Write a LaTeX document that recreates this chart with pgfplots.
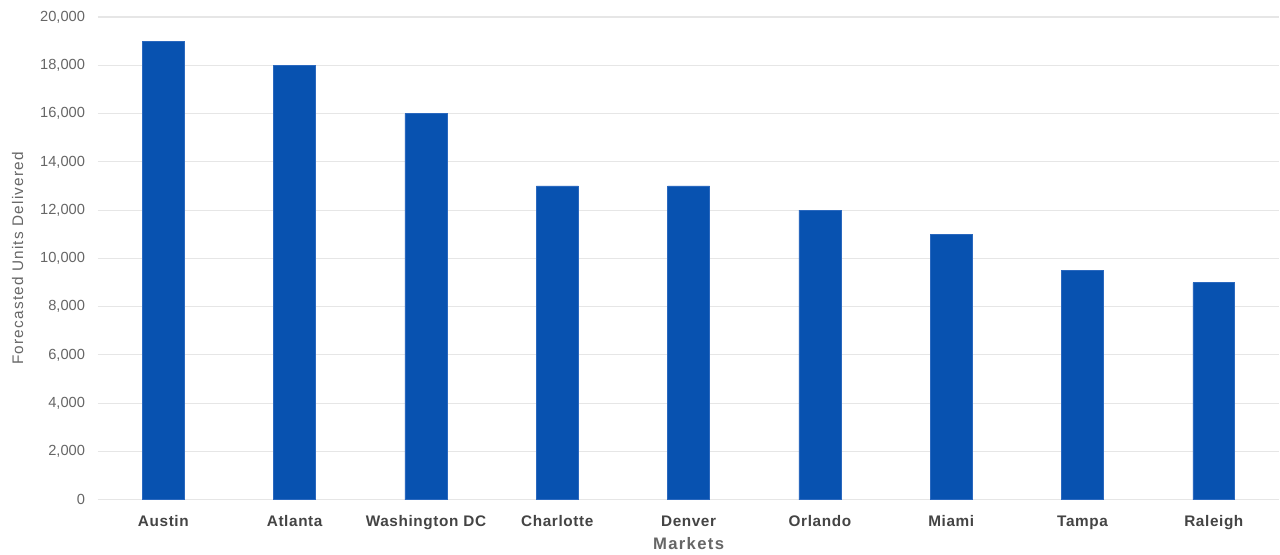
\documentclass[border=0pt]{standalone}
\usepackage{pgfplots}
\pgfplotsset{compat=1.18}
\usepackage{fontspec}
\setmainfont{Liberation Sans}
\newfontfamily\wideA[LetterSpace=8]{Liberation Sans}
\newfontfamily\wideB[LetterSpace=4]{Liberation Sans}
\definecolor{barblue}{HTML}{0852B0}
\definecolor{baredge}{HTML}{2A68BE}
\definecolor{gridc}{HTML}{E6E6E6}
\definecolor{ticktext}{HTML}{666666}
\definecolor{cattext}{HTML}{444444}
\begin{document}
\begin{tikzpicture}
\begin{axis}[
  scale only axis,
  width=886.7pt, height=362.25pt,
  xmin=-0.5, xmax=8.5,
  ymin=0, ymax=20000,
  ytick={0,2000,...,20000},
  xtick={0,...,8},
  xticklabels={Austin,Atlanta,Washington DC,Charlotte,Denver,Orlando,Miami,Tampa,Raleigh},
  axis line style={draw=none},
  major tick length=0pt,
  ymajorgrids, grid style={gridc, line width=0.8pt},
  /pgf/number format/assume math mode=true,
  /pgf/number format/1000 sep={,},
  scaled y ticks=false,
  yticklabel style={font=\fontsize{11}{12}\selectfont, text=ticktext, xshift=-6pt},
  xticklabel style={font=\wideB\fontsize{11.5}{13}\selectfont\bfseries, text=cattext, text height=1.6ex, text depth=0.45ex, yshift=-8pt},
  every axis y label/.style={at={(axis description cs:0,0.5)}, rotate=90, anchor=center, yshift=60pt,
     font=\wideA\fontsize{11.5}{13}\selectfont, text=ticktext},
  every axis x label/.style={at={(axis description cs:0.5,0)}, anchor=center, yshift=-33pt,
     font=\wideA\fontsize{12.5}{14}\selectfont\bfseries, text=ticktext},
  ylabel={Forecasted Units Delivered},
  xlabel={Markets},
  clip=false,
]
\addplot[ybar, bar width=31.5pt, fill=barblue, draw=baredge, line width=0.5pt] coordinates {
  (0,19000) (1,18000) (2,16000) (3,13000) (4,13000)
  (5,12000) (6,11000) (7,9500) (8,9000)
};
\end{axis}
\path[use as bounding box] (-73.3pt,-41.25pt) rectangle (886.7pt,375pt);
\end{tikzpicture}
\end{document}
